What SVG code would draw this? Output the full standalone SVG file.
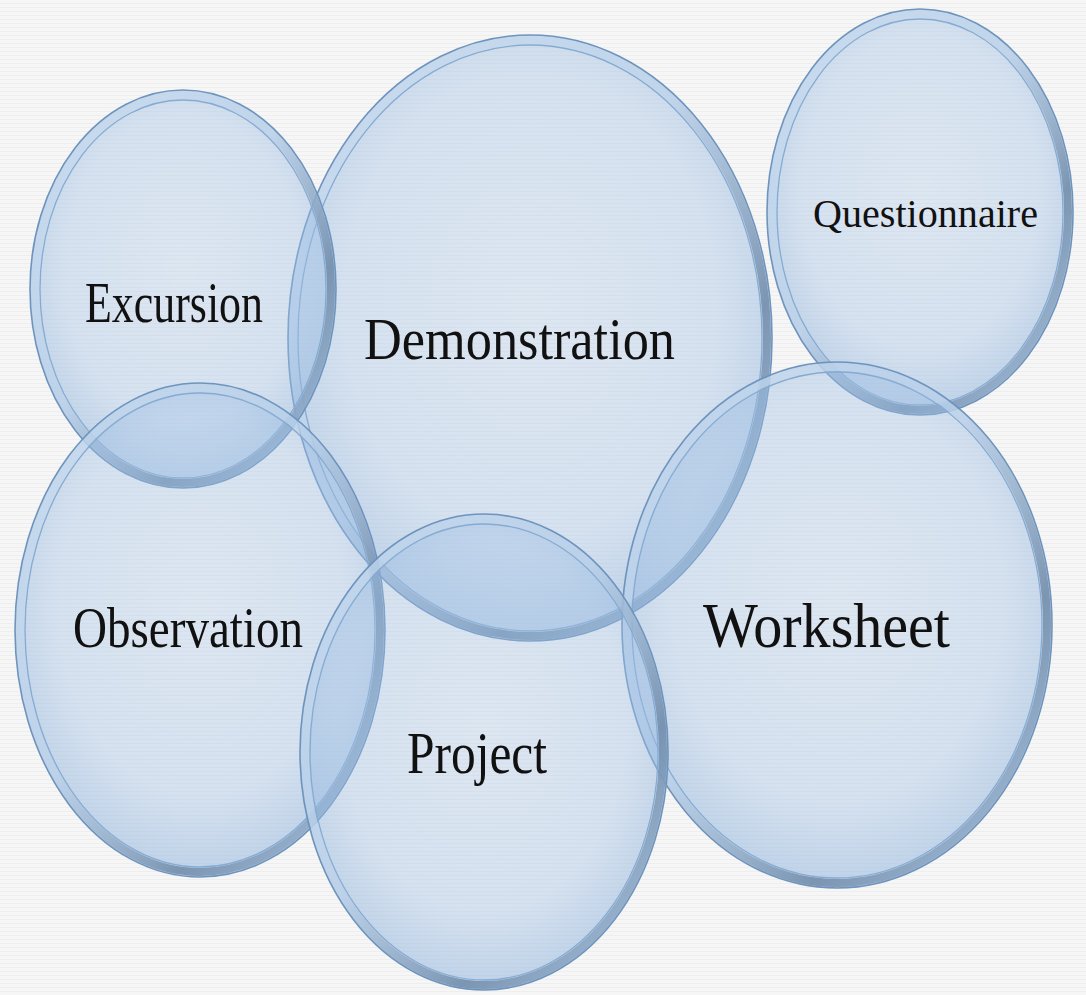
<svg xmlns="http://www.w3.org/2000/svg" width="1086" height="995" viewBox="0 0 1086 995">
  <style>
    .fill { fill: url(#bodyGrad); }
    .ring { fill: none; stroke: url(#ringGrad); stroke-width: 8; }
    .outer { fill: none; stroke: #6e94bd; stroke-width: 1.6; }
    .inner { fill: none; stroke: #86abd2; stroke-width: 1.3; }
    .label { font-family: "Liberation Serif", "DejaVu Serif", serif; fill: #111111; text-anchor: start; }
  </style>
  <defs>
    <pattern id="bgLines" width="8" height="4" patternUnits="userSpaceOnUse">
      <rect width="8" height="4" fill="#f6f6f6"/>
      <rect y="3" width="8" height="1" fill="#eeeeee"/>
    </pattern>
    <radialGradient id="bodyGrad" cx="0.5" cy="0.45" r="0.55">
      <stop offset="0" stop-color="#a3c3e8" stop-opacity="0.3"/>
      <stop offset="0.7" stop-color="#a0c0e5" stop-opacity="0.38"/>
      <stop offset="1" stop-color="#8fb3dc" stop-opacity="0.55"/>
    </radialGradient>
    <linearGradient id="ringGrad" x1="0" y1="0" x2="1" y2="1">
      <stop offset="0" stop-color="#c7dbef" stop-opacity="0.7"/>
      <stop offset="0.45" stop-color="#bcd2ea" stop-opacity="0.75"/>
      <stop offset="0.72" stop-color="#6f8aa8" stop-opacity="0.85"/>
      <stop offset="1" stop-color="#a9c5e2" stop-opacity="0.85"/>
    </linearGradient>
  </defs>

  <rect width="1086" height="995" fill="url(#bgLines)"/>

  <g id="node-demonstration">
    <ellipse class="fill" cx="530" cy="338" rx="242" ry="303"/>
    <ellipse class="ring" cx="530" cy="338" rx="237" ry="298"/>
    <ellipse class="outer" cx="530" cy="338" rx="242" ry="303"/>
    <ellipse class="inner" cx="530" cy="338" rx="232" ry="293"/>
    <text class="label" x="364" y="359" font-size="60" textLength="311" lengthAdjust="spacingAndGlyphs">Demonstration</text>
  </g>

  <g id="node-questionnaire">
    <ellipse class="fill" cx="920" cy="212" rx="153" ry="203"/>
    <ellipse class="ring" cx="920" cy="212" rx="148" ry="198"/>
    <ellipse class="outer" cx="920" cy="212" rx="153" ry="203"/>
    <ellipse class="inner" cx="920" cy="212" rx="143" ry="193"/>
    <text class="label" x="813" y="227" font-size="40" textLength="225" lengthAdjust="spacingAndGlyphs">Questionnaire</text>
  </g>

  <g id="node-excursion">
    <ellipse class="fill" cx="183" cy="289" rx="153" ry="199"/>
    <ellipse class="ring" cx="183" cy="289" rx="148" ry="194"/>
    <ellipse class="outer" cx="183" cy="289" rx="153" ry="199"/>
    <ellipse class="inner" cx="183" cy="289" rx="143" ry="189"/>
    <text class="label" x="85" y="322" font-size="56" textLength="178" lengthAdjust="spacingAndGlyphs">Excursion</text>
  </g>

  <g id="node-observation">
    <ellipse class="fill" cx="200" cy="630" rx="185" ry="247"/>
    <ellipse class="ring" cx="200" cy="630" rx="180" ry="242"/>
    <ellipse class="outer" cx="200" cy="630" rx="185" ry="247"/>
    <ellipse class="inner" cx="200" cy="630" rx="175" ry="237"/>
    <text class="label" x="73" y="647" font-size="58" textLength="230" lengthAdjust="spacingAndGlyphs">Observation</text>
  </g>

  <g id="node-worksheet">
    <ellipse class="fill" cx="837" cy="625" rx="215" ry="263"/>
    <ellipse class="ring" cx="837" cy="625" rx="210" ry="258"/>
    <ellipse class="outer" cx="837" cy="625" rx="215" ry="263"/>
    <ellipse class="inner" cx="837" cy="625" rx="205" ry="253"/>
    <text class="label" x="703" y="647" font-size="64" textLength="247" lengthAdjust="spacingAndGlyphs">Worksheet</text>
  </g>

  <g id="node-project">
    <ellipse class="fill" cx="484" cy="752" rx="184" ry="238"/>
    <ellipse class="ring" cx="484" cy="752" rx="179" ry="233"/>
    <ellipse class="outer" cx="484" cy="752" rx="184" ry="238"/>
    <ellipse class="inner" cx="484" cy="752" rx="174" ry="228"/>
    <text class="label" x="407" y="773" font-size="60" textLength="140" lengthAdjust="spacingAndGlyphs">Project</text>
  </g>

  <g id="connectors"/>
</svg>
